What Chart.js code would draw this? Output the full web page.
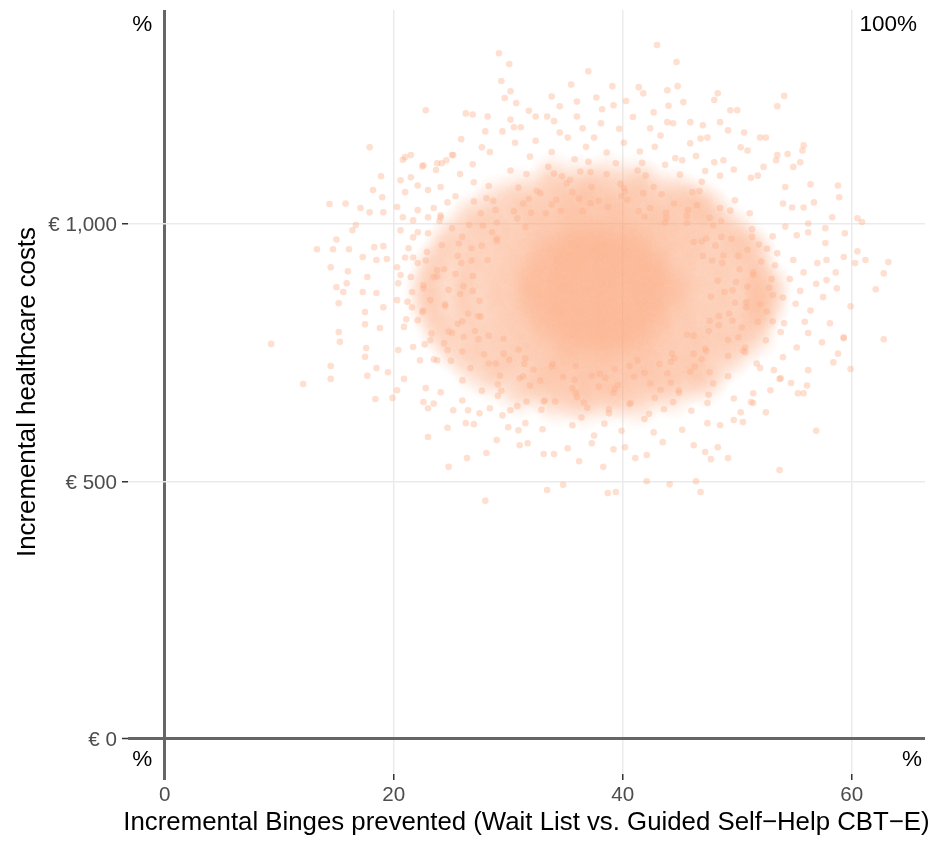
<!DOCTYPE html>
<html>
<head>
<meta charset="utf-8">
<title>Incremental cost-effectiveness plane</title>
<script src="https://cdn.jsdelivr.net/npm/chart.js@4.4.1/dist/chart.umd.min.js"></script>
<style>
  html, body { margin: 0; padding: 0; background: #ffffff; }
  canvas { display: block; }
</style>
</head>
<body>
<canvas id="ceplane" width="933" height="842"></canvas>
<script>
// axis setup
const xTickValues = [0, 20, 40, 60];
const yTickValues = [0, 500, 1000];
const yTickLabels = ['€ 0', '€ 500', '€ 1,000'];
const xTitle = 'Incremental Binges prevented (Wait List vs. Guided Self\u2212Help CBT\u2212E)';
const yTitle = 'Incremental healthcare costs';
// share of draws in each quadrant: top-left, top-right, bottom-left, bottom-right
const quadrantText = ['%', '100%', '%', '%'];

// bootstrap draws [binges prevented, cost] where they pile up into a solid mass
const coreDraws = [
  [35.4,771],[37.3,777],[39.0,772],[40.9,779],
  [33.5,805],[35.1,812],[37.1,806],[38.8,810],[40.7,804],[42.3,811],
  [32.2,838],[34.2,845],[35.8,839],[37.8,843],[39.4,837],[41.4,844],[43.0,839],
  [31.8,877],[33.7,872],[35.3,878],[37.3,871],[38.9,877],[40.9,872],[42.5,878],[44.4,872],
  [32.2,903],[34.2,910],[35.8,904],[37.8,911],[39.4,905],[41.4,910],[43.0,904],
  [33.1,943],[35.1,938],[36.7,944],[38.7,937],[40.3,943],[42.3,938],
  [35.2,967],[37.2,973],[38.8,967],[40.8,972]
];

// heavily overlapping draws around it
const massDraws = [
  [34.2,652],[36.6,647],[38.9,655],[41.3,649],
  [31.0,669],[33.4,676],[35.9,667],[37.6,674],[39.8,670],[42.1,677],[44.3,668],
  [28.9,697],[31.6,690],[33.8,698],[35.6,689],[37.4,696],[39.3,691],[41.2,699],[43.5,692],[45.7,697],[47.0,690],
  [27.3,713],[29.9,720],[32.4,711],[34.4,719],[36.1,714],[37.9,721],[39.6,712],[41.5,718],[43.3,711],[45.5,720],[47.6,714],
  [26.4,741],[28.9,734],[31.3,742],[33.3,735],[35.2,740],[36.9,733],[38.6,743],[40.4,736],[42.3,741],[44.2,734],[46.4,742],[48.9,736],
  [25.3,757],[28.0,764],[30.4,756],[32.5,763],[34.4,758],[36.2,765],[38.0,757],[39.7,762],[41.6,756],[43.4,764],[45.5,759],[47.6,765],[50.0,757],
  [24.6,785],[27.4,778],[29.9,786],[32.1,779],[34.1,784],[35.8,777],[37.5,787],[39.2,780],[41.0,785],[42.9,778],[44.9,786],[47.1,780],[49.5,784],[51.5,779],
  [24.0,801],[26.8,808],[29.5,800],[31.7,807],[33.6,802],[35.4,809],[37.1,801],[38.8,806],[40.6,800],[42.5,808],[44.4,803],[46.5,809],[48.9,801],[51.4,806],
  [23.5,829],[26.4,822],[29.0,830],[31.3,823],[33.3,828],[35.1,821],[36.9,831],[38.7,824],[40.4,829],[42.2,822],[44.2,830],[46.3,823],[48.7,828],[51.2,821],[52.3,831],
  [23.2,845],[26.1,852],[28.8,844],[31.1,851],[33.0,846],[34.9,853],[36.7,845],[38.4,850],[40.2,844],[42.0,852],[43.9,847],[46.0,853],[48.4,845],[50.9,851],[52.6,846],
  [23.0,873],[25.9,866],[28.6,874],[30.9,867],[32.9,872],[34.8,865],[36.6,875],[38.3,868],[40.1,873],[41.9,866],[43.8,874],[45.9,867],[48.3,872],[50.8,865],[52.7,874],
  [23.3,889],[26.2,896],[28.7,888],[31.0,895],[33.1,890],[35.0,897],[36.8,889],[38.5,894],[40.3,888],[42.1,896],[44.0,891],[46.1,897],[48.5,889],[51.0,895],[52.5,890],
  [23.6,917],[26.5,910],[29.1,918],[31.4,911],[33.4,916],[35.2,909],[37.0,919],[38.8,912],[40.5,917],[42.3,910],[44.3,918],[46.4,911],[48.8,916],[51.3,909],
  [24.1,933],[26.9,940],[29.6,932],[31.8,939],[33.7,934],[35.5,941],[37.2,933],[38.9,938],[40.7,932],[42.6,940],[44.5,935],[46.6,941],[49.0,933],[51.5,939],
  [24.7,961],[27.5,954],[30.0,962],[32.2,955],[34.2,960],[35.9,953],[37.6,963],[39.3,956],[41.1,961],[43.0,954],[45.0,962],[47.2,955],[49.6,960],[51.1,954],
  [25.4,977],[28.1,984],[30.5,976],[32.6,983],[34.5,978],[36.3,985],[38.1,977],[39.8,982],[41.7,976],[43.5,984],[45.6,979],[47.7,985],[50.1,977],
  [26.5,1005],[29.0,998],[31.4,1006],[33.4,999],[35.3,1004],[37.0,997],[38.7,1007],[40.5,1000],[42.4,1005],[44.3,998],[46.5,1006],[49.0,999],
  [27.4,1021],[30.0,1028],[32.5,1020],[34.5,1027],[36.2,1022],[38.0,1029],[39.7,1021],[41.6,1026],[43.4,1020],[45.6,1028],[47.7,1022],
  [29.0,1049],[31.7,1042],[33.9,1050],[35.7,1043],[37.5,1048],[39.4,1041],[41.3,1051],[43.6,1044],[45.8,1049],[47.0,1042],
  [31.1,1065],[33.5,1072],[36.0,1064],[37.8,1071],[40.0,1066],[42.2,1073],[44.5,1065],
  [34.0,1093],[36.4,1087],[38.7,1094],[41.2,1088]
];

// single draws that still show on their own
const ringPoints = [
  [48.3,890],[47.0,938],[46.2,965],[43.7,1003],[41.9,1014],[38.7,1033],[36.5,1025],[33.3,1021],
  [31.5,994],[29.0,972],[28.2,930],[26.9,899],[27.5,851],[27.6,820],[29.6,777],[30.9,756],
  [33.9,728],[35.9,724],[39.3,718],[41.3,735],[44.3,748],[45.6,785],[47.6,812],[47.7,859],
  [48.9,868],[47.8,929],[46.9,966],[43.8,1012],[41.4,1025],[37.2,1041],[34.6,1026],[30.8,1011],
  [29.0,967],[26.8,929],[26.9,870],[27.4,821],[28.3,783],[31.5,739],[33.8,723],[38.0,709],
  [40.6,724],[44.5,739],[46.2,783],[48.4,821],
  [49.6,871],[48.7,924],[48.1,958],[45.6,1002],[43.8,1022],[40.4,1047],[37.9,1045],[34.2,1047],
  [32.0,1022],[29.0,1003],[27.7,958],[25.9,924],[26.1,879],[26.5,826],[27.1,792],[29.6,748],
  [31.4,728],[34.8,703],[37.3,705],[41.0,703],[43.2,728],[46.2,748],[47.5,792],[49.3,826],
  [51.4,901],[49.5,971],[47.6,1012],[43.4,1058],[40.1,1070],[35.1,1079],[31.8,1049],[27.6,1021],
  [25.7,962],[23.8,910],[24.5,840],[25.1,788],[28.3,729],[31.0,700],[35.9,672],[39.3,680],
  [44.2,692],[46.9,737],[50.1,780],[50.8,848],
  [51.4,906],[50.9,950],[48.6,1006],[46.5,1037],[42.7,1072],[39.8,1078],[35.4,1086],[32.5,1064],
  [28.7,1045],[26.6,998],[24.2,959],[23.8,898],[23.2,852],[24.8,791],[26.0,752],[29.3,705],
  [31.9,686],[36.0,664],[39.2,672],[43.3,678],[45.9,713],[49.2,744],[50.4,799],[52.0,844],
  [53.0,893],[52.6,952],[49.4,1026],[46.7,1064],[41.3,1104],[37.2,1101],[31.6,1097],[28.1,1050],
  [24.0,1006],[22.8,929],[21.6,868],[23.3,787],[25.0,734],[29.4,676],[33.1,655],[38.8,640],
  [42.8,662],[47.9,690],[50.5,754],[53.1,811]
];

const tailPoints = [
  [49.9,887],[48.8,939],[47.3,972],[45.6,1015],[42.4,1031],[39.9,1054],[36.2,1049],[33.8,1038],
  [30.5,1025],[28.6,984],[26.8,953],[25.4,903],[25.8,864],[26.0,811],[27.4,776],[30.1,736],
  [32.2,717],[35.8,697],[38.5,701],[41.9,711],[44.2,732],[47.2,758],[48.4,803],[49.8,847],
  [52.1,927],[51.3,975],[48.5,1031],[46.1,1062],[42.0,1094],[38.6,1097],[34.0,1098],[30.9,1071],
  [27.0,1044],[25.1,992],[22.9,946],[22.6,881],[22.5,829],[24.4,768],[26.7,720],[29.1,688],
  [33.2,657],[36.6,653],[40.7,652],[44.9,672],[47.6,712],[50.7,751],[51.8,810],[53.1,862],
  [50.9,878],[50.2,912],[50.1,938],[48.6,975],[47.9,997],[45.7,1027],[44.5,1040],[41.8,1060],[40.2,1063],
  [37.3,1072],[35.6,1062],[32.8,1060],[31.3,1040],[28.9,1027],[27.8,997],[26.0,975],[25.6,938],[24.4,912],
  [24.8,872],[24.5,844],[25.6,806],[26.1,781],[27.9,747],[28.9,729],[31.3,704],[32.8,696],[35.6,681],
  [37.9,684],[39.6,687],[42.4,690],[43.9,710],[46.3,723],[47.3,753],[49.2,775],[49.6,812],[50.8,838],
  [54.6,893],[53.5,943],[53.1,976],[51.1,1021],[49.8,1046],[46.9,1082],[45.0,1096],[41.7,1119],[39.4,1118],
  [35.8,1126],[33.5,1111],[30.2,1104],[28.3,1074],[25.4,1054],[24.1,1013],[22.1,984],[21.7,935],[20.6,901],
  [21.2,849],[21.1,815],[22.7,766],[23.5,737],[26.0,696],[27.7,676],[30.8,646],[32.9,639],[36.4,624],
  [38.8,632],[42.3,631],[44.4,654],[47.5,668],[49.2,704],[51.7,729],[52.5,774],[54.1,807],[54.0,857],
  [36.8,1150],[38.6,1139],[40.1,1158],[41.5,1141],[39.7,1185],[35.2,1168],[42.8,1150],[38.1,1196],
  [40.9,1208],[37.0,1121],[33.8,1140],[31.9,1131],[36.3,1102],[43.7,1115],[46.4,1132],[47.2,1103],
  [34.7,1093],[30.6,1158],[27.0,1081],[25.9,1165],[44.0,1230],[40.3,1239],[35.5,1271],[31.8,1220],
  [34.1,655],[36.9,643],[38.4,612],[40.6,650],[41.9,621],[43.6,640],[45.2,600],[37.5,589],
  [33.0,601],[44.9,677],[39.9,598],[35.6,609],[42.7,595],[46.0,637],[31.6,655],[29.1,666],
  [52.8,876],[53.3,920],[51.9,960],[52.6,830],[55.1,845],[54.2,995],[51.3,990],[53.8,790],[50.7,760],[55.9,810],
  [17.9,1149],[18.9,1093],[18.2,1066],[19.0,1052],[14.4,1039],[15.8,1040],[17.1,1031],[17.9,1023],[19.1,1023],
  [16.7,998],[16.4,988],[15.0,970],[13.3,951],[14.7,951],[16.1,951],[18.3,955],[19.1,957],[17.3,936],
  [18.5,930],[19.4,932],[14.5,916],[16.0,908],[17.7,897],[15.9,885],[15.0,877],[15.6,868],[17.3,868],
  [18.5,866],[15.2,846],[17.5,829],[19.1,838],[17.5,805],[18.8,798],[15.2,790],[15.3,771],[9.3,767],
  [17.6,759],[17.5,742],[14.5,724],[18.5,720],[17.7,705],[14.5,699],[12.1,689],[19.5,712],[18.4,660],[19.9,662],
  [20.3,677],[20.9,699],[23.0,586],[24.7,604],[24.8,528],[26.4,545],[28.1,555],[28.0,462],[27.0,611],
  [26.3,613],[29.0,580],[30.0,605],[31.0,570],[22.8,681],[23.0,642],[22.6,654],[23.5,651],[24.1,673],
  [25.2,638],[26.0,657],[26.5,638],[27.5,632],[28.4,642],[29.5,628],[30.2,638],[30.9,599],[31.5,613],
  [33.4,483],[34.8,493],[38.7,477],[39.4,479],[42.1,500],[44.1,494],[46.4,500],[46.8,479],[53.7,522],
  [56.9,598],[62.8,776],[59.9,718],[33.1,553],[34.0,553],[36.2,539],[38.3,528],[41.1,545],[42.1,551],
  [47.2,557],[47.7,543],[49.2,545],[48.3,566],[46.2,570],[43.5,576],[40.2,566],[39.2,562],[37.3,574],
  [35.2,564],[31.7,574],[52.5,634],[50.5,615],[49.7,619],[48.5,609],[47.4,613],[55.8,671],[55.3,671],
  [56.1,686],[58.4,731],[58.8,748],[57.4,770],[59.3,780],[53.7,699],[53.2,716],[52.0,720],[51.4,671],
  [49.7,661],[51.2,654],
  [63.2,926],[62.8,904],[62.1,873],[61.2,930],[60.5,947],[60.3,924],[59.9,840],[59.3,936],[59.4,982],
  [58.7,875],[58.6,906],[59.3,778],[58.1,807],[57.5,858],[57.8,891],[57.0,924],[57.7,963],[56.2,788],
  [56.2,716],[54.7,691],[53.8,700],[55.2,760],[54.0,741],[52.9,677],[51.4,652],[50.3,634],[47.4,652],
  [56.4,832],[56.9,884],[55.5,870],[55.8,906],[54.9,930],[56.2,984],[55.2,978],[57.8,930],
  [44.7,1315],[43.9,1260],[44.8,1268],[41.8,1254],[45.3,1237],[48.3,1254],[48.0,1241],[54.1,1249],
  [53.5,1229],[49.4,1221],[50.0,1221],[42.7,1217],[45.9,1198],[47.0,1192],[48.5,1198],[43.9,1198],
  [44.4,1196],[49.2,1182],[50.6,1178],[52.0,1168],[52.5,1168],[55.8,1153],[55.7,1143],[53.5,1134],
  [54.4,1136],[53.4,1124],[55.5,1120],[54.9,1111],[58.8,1075],[58.9,1052],[56.4,1077],[56.7,1042],
  [55.8,1032],[54.2,1072],[54.0,1040],[54.8,1032],[58.3,1013],[60.5,1011],[60.9,1004],[57.7,992],
  [56.2,1001],[51.8,1094],[51.2,1090],[50.3,1149],[50.9,1143],[52.3,1111],[48.8,1124],[47.4,1168],
  [46.8,1166],[43.3,1172],[42.4,1186],[45.9,1157],[45.2,1124],[44.6,1128],[48.0,1120],[49.7,1106],[48.5,1094],
  [29.2,1332],[30.1,1311],[29.4,1278],[30.2,1258],[29.7,1245],[30.7,1235],[37.0,1297],[39.1,1268],
  [41.4,1266],[22.8,1221],[26.3,1215],[26.9,1213],[28.2,1209],[30.2,1203],[33.8,1248],[34.5,1229],
  [36.0,1238],[37.7,1246],[38.2,1223],[39.2,1231],[36.0,1209],[32.4,1209],[33.4,1209],[34.0,1200],
  [28.0,1180],[29.5,1180],[30.5,1188],[31.1,1188],[36.5,1186],[34.5,1178],[32.4,1162],[37.5,1168],
  [21.0,1130],[22.5,1112],[21.5,1091],[25.1,1134],[24.2,1118],[23.7,1105],[25.8,1097],[26.9,1116],
  [27.7,1149],[28.4,1140],[43.0,1348],
  [20.8,1125],[21.5,1134],[22.6,1114],[23.8,1118],[24.6,1124],[25.2,1134],[20.6,1085],[22.1,1075],
  [21.0,1062],[23.0,1066],[24.1,1072],[20.3,1033],[22.1,1027],[23.5,1031],[24.7,1042],[20.8,1013],
  [21.7,1007],[23.0,1013],[24.1,1017],[20.6,988],[21.7,974],[21.3,953],[23.0,982],[20.3,916],
  [21.0,935],[22.1,924],[20.4,885],[21.5,897],[22.6,875],[23.5,897],[20.3,852],[21.6,838],
  [22.6,832],[20.9,800],[22.1,813],[20.4,755],[21.7,761],[23.2,774],[22.3,735],[23.8,735],[24.7,755]
];

const FONT = '"Liberation Sans", Arial, Helvetica, sans-serif';
const RGB = '252, 176, 138';
const toXY = pts => pts.map(([x, y]) => ({ x, y }));

// marker for the piled-up draws: fades towards its rim so neighbours merge smoothly
function pileMarker(radius, alpha) {
  const c = document.createElement('canvas');
  c.width = c.height = radius * 2;
  const g = c.getContext('2d');
  const grad = g.createRadialGradient(radius, radius, 0, radius, radius, radius);
  grad.addColorStop(0, `rgba(${RGB}, ${alpha})`);
  grad.addColorStop(0.35, `rgba(${RGB}, ${alpha * 0.75})`);
  grad.addColorStop(0.7, `rgba(${RGB}, ${alpha * 0.3})`);
  grad.addColorStop(1, `rgba(${RGB}, 0)`);
  g.fillStyle = grad;
  g.fillRect(0, 0, c.width, c.height);
  return c;
}

Chart.defaults.font.family = FONT;

// tick labels, axis titles and quadrant shares, placed from the scales
const labelsPlugin = {
  id: 'planeLabels',
  afterDraw(chart) {
    const { ctx, chartArea, scales } = chart;
    const xs = scales.x, ys = scales.y;
    const x0 = xs.getPixelForValue(0);
    const y0 = ys.getPixelForValue(0);
    ctx.save();
    ctx.textBaseline = 'alphabetic';

    ctx.font = `20.6px ${FONT}`;
    ctx.fillStyle = '#4D4D4D';
    ctx.textAlign = 'center';
    xTickValues.forEach(v => ctx.fillText(String(v), xs.getPixelForValue(v), chartArea.bottom + 27));
    ctx.textAlign = 'right';
    yTickValues.forEach((v, i) => ctx.fillText(yTickLabels[i], chartArea.left - 11, ys.getPixelForValue(v) + 7.4));

    ctx.font = `25.8px ${FONT}`;
    ctx.fillStyle = '#000000';
    ctx.textAlign = 'center';
    ctx.fillText(xTitle, (chartArea.left + chartArea.right) / 2, chartArea.bottom + 55.5);
    ctx.save();
    ctx.translate(34.5, (chartArea.top + chartArea.bottom) / 2);
    ctx.rotate(-Math.PI / 2);
    ctx.fillText(yTitle, 0, 0);
    ctx.restore();

    ctx.font = `22.5px ${FONT}`;
    ctx.textAlign = 'right';
    ctx.fillText(quadrantText[0], x0 - 12.5, chartArea.top + 21);
    ctx.fillText(quadrantText[1], chartArea.right - 8, chartArea.top + 21);
    ctx.fillText(quadrantText[2], x0 - 12.5, y0 + 27.5);
    ctx.fillText(quadrantText[3], chartArea.right - 3, y0 + 27.5);
    ctx.restore();
  }
};

const isZero = c => c.tick && c.tick.value === 0;
const dots = (pts, order) => ({
  data: toXY(pts), order, pointRadius: 3.3, backgroundColor: `rgba(${RGB}, 0.4)`, borderWidth: 0
});
const pile = (pts, order, marker) => ({ data: toXY(pts), order, pointStyle: marker, pointRadius: 26 });

new Chart(document.getElementById('ceplane'), {
  type: 'scatter',
  data: {
    datasets: [
      dots(tailPoints, 1),
      dots(ringPoints, 2),
      pile(massDraws, 3, pileMarker(26, 0.33)),
      pile(coreDraws, 4, pileMarker(26, 0.3))
    ]
  },
  options: {
    responsive: false,
    animation: false,
    events: [],
    layout: { autoPadding: false, padding: { top: 10, right: 8, left: 0, bottom: 0 } },
    plugins: { legend: { display: false }, tooltip: { enabled: false } },
    scales: {
      x: {
        type: 'linear',
        min: -3.2,
        max: 66.4,
        afterBuildTicks: s => { s.ticks = xTickValues.map(v => ({ value: v })); },
        afterFit: s => { s.height = 68; },
        border: { display: false },
        grid: {
          color: c => isZero(c) ? '#666666' : '#EBEBEB',
          lineWidth: c => isZero(c) ? 3 : 1.5,
          tickColor: c => isZero(c) ? '#666666' : '#333333',
          tickWidth: c => isZero(c) ? 3 : 1.5,
          tickLength: 6
        },
        ticks: { display: false },
        title: { display: false }
      },
      y: {
        type: 'linear',
        min: -69,
        max: 1416,
        afterBuildTicks: s => { s.ticks = yTickValues.map(v => ({ value: v })); },
        afterFit: s => { s.width = 128; },
        border: { display: false },
        grid: {
          color: c => isZero(c) ? '#666666' : '#EBEBEB',
          lineWidth: c => isZero(c) ? 3 : 1.5,
          tickColor: '#333333',
          tickWidth: 1.5,
          tickLength: 6
        },
        ticks: { display: false },
        title: { display: false }
      }
    }
  },
  plugins: [labelsPlugin]
});
</script>
</body>
</html>
